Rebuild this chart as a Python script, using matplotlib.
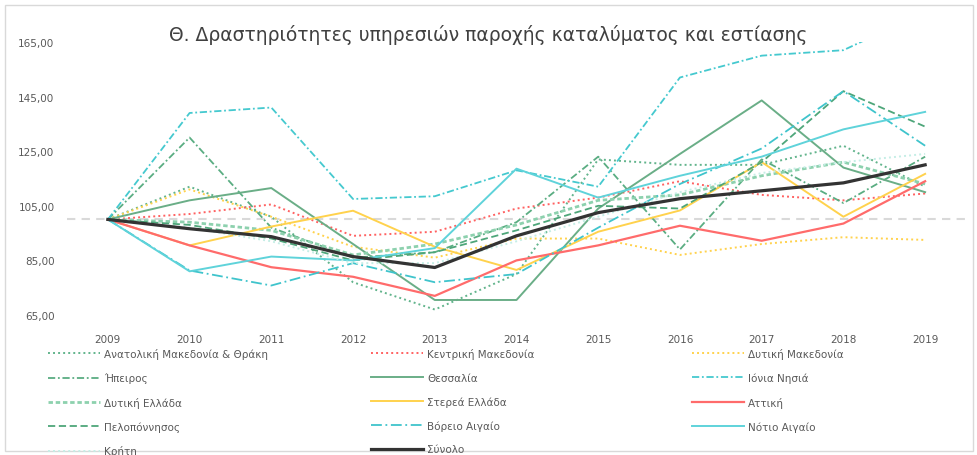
import matplotlib.pyplot as plt
from matplotlib.patches import Rectangle

years = [2009, 2010, 2011, 2012, 2013, 2014, 2015, 2016, 2017, 2018, 2019]

anat_mak = [100, 112, 101, 77, 67, 80, 122, 120, 120, 127, 112]
kentr_mak = [100, 102, 105.5, 94, 95.5, 104, 108, 114, 109, 107, 109.5]
dyt_mak = [100, 111, 101, 90, 86, 93, 93, 87, 91, 93.5, 92.5]
hpeiros = [100, 130, 97, 86, 88, 99, 123, 89, 122, 106, 123]
thessalia = [100, 107, 111.5, 91, 70.5, 70.5, 104, 124, 143.6, 119, 110]
ionia = [100, 139, 141, 107.5, 108.5, 118, 112, 152, 160, 162, 176]
dyt_ell = [100, 99, 96, 87, 91, 98, 107, 109, 116, 121, 113]
sterea = [100, 90.5, 97.4, 103.2, 90, 81.5, 95.5, 103.3, 121, 101, 116.7]
attiki = [100, 90.5, 82.5, 79, 72, 85, 90.5, 97.7, 92.2, 98.5, 114]
pelop = [100, 98, 93, 85, 88, 96, 105, 104, 121, 147, 134]
voreio = [100, 81.3, 75.8, 84, 77, 80, 97, 113, 126, 147, 127]
notio = [100, 81, 86.4, 85, 89.5, 118.6, 108, 116, 123, 133, 139.4]
kriti = [100, 97, 92, 84, 84, 92, 101, 110, 117, 121, 124]
synolo = [100, 96.6, 93.7, 86.4, 82.4, 94, 102.5, 107.6, 110.5, 113.4, 120]

# (label, values, colour, linestyle, width)
series = [
    ("Ανατολική Μακεδονία & Θράκη", anat_mak, "#62b48c", (0, (1, 1.6)), 1.4),
    ("Κεντρική Μακεδονία", kentr_mak, "#ff6161", (0, (1, 1.6)), 1.4),
    ("Δυτική Μακεδονία", dyt_mak, "#ffd24d", (0, (1, 1.6)), 1.4),
    ("Ήπειρος", hpeiros, "#5aad82", (0, (4, 1.5, 1, 1.5)), 1.3),
    ("Θεσσαλία", thessalia, "#6aae87", "-", 1.4),
    ("Ιόνια Νησιά", ionia, "#45c9cf", (0, (4, 1.5, 1, 1.5)), 1.3),
    ("Δυτική Ελλάδα", dyt_ell, "#8dd1ae", (0, (1.6, 1)), 2.0),
    ("Στερεά Ελλάδα", sterea, "#ffd24d", "-", 1.4),
    ("Αττική", attiki, "#ff6b6b", "-", 1.6),
    ("Πελοπόννησος", pelop, "#4ea67a", (0, (4, 2)), 1.3),
    ("Βόρειο Αιγαίο", voreio, "#3fc4cc", (0, (6, 2, 1, 2)), 1.3),
    ("Νότιο Αιγαίο", notio, "#5fd3da", "-", 1.4),
    ("Κρήτη", kriti, "#c5eee6", (0, (1, 1.6)), 1.4),
    ("Σύνολο", synolo, "#333333", "-", 2.3),
]

fig = plt.figure(figsize=(9.78, 4.56), dpi=100)
ax = fig.add_axes([67 / 978, 140 / 456, 899 / 978, 273 / 456])

x = list(range(len(years)))
ax.axhline(100, color="#d9d9d9", lw=1.5, ls=(0, (4, 3)), zorder=0)

lines = []
for label, vals, col, ls, lw in series:
    ln, = ax.plot(x, vals, color=col, ls=ls, lw=lw, label=label)
    lines.append(ln)

ax.set_xlim(-0.5, len(years) - 0.5)
ax.set_ylim(65, 165)
ax.set_yticks(range(65, 166, 20))
ax.set_yticklabels([f"{v},00" for v in range(65, 166, 20)])
ax.set_xticks(x)
ax.set_xticklabels([str(y) for y in years])
ax.tick_params(length=0, labelsize=7.5, labelcolor="#595959")
ax.tick_params(axis="y", pad=9)
ax.tick_params(axis="x", pad=14)
for s in ax.spines.values():
    s.set_visible(False)

fig.text(488 / 978, 1 - 35 / 456,
         "Θ. Δραστηριότητες υπηρεσιών παροχής καταλύματος και εστίασης",
         ha="center", va="center", fontsize=13.5, color="#404040")

# legend: three columns, filled row by row
col_x = [48, 371, 692]
for i, cx in enumerate(col_x):
    hs = lines[i::3]
    leg = fig.legend(handles=hs, labels=[h.get_label() for h in hs],
                     loc="upper left", bbox_to_anchor=(cx / 978, 1 - 349 / 456),
                     frameon=False, fontsize=7.5, handlelength=5,
                     handletextpad=0.4, labelspacing=1.3, borderpad=0,
                     borderaxespad=0)
    for t in leg.get_texts():
        t.set_color("#595959")

fig.patches.append(Rectangle((5 / 978, 4 / 456), 968 / 978, 446 / 456,
                             transform=fig.transFigure, fill=False,
                             edgecolor="#d9d9d9", lw=1))

fig.savefig("out.png", dpi=100)
